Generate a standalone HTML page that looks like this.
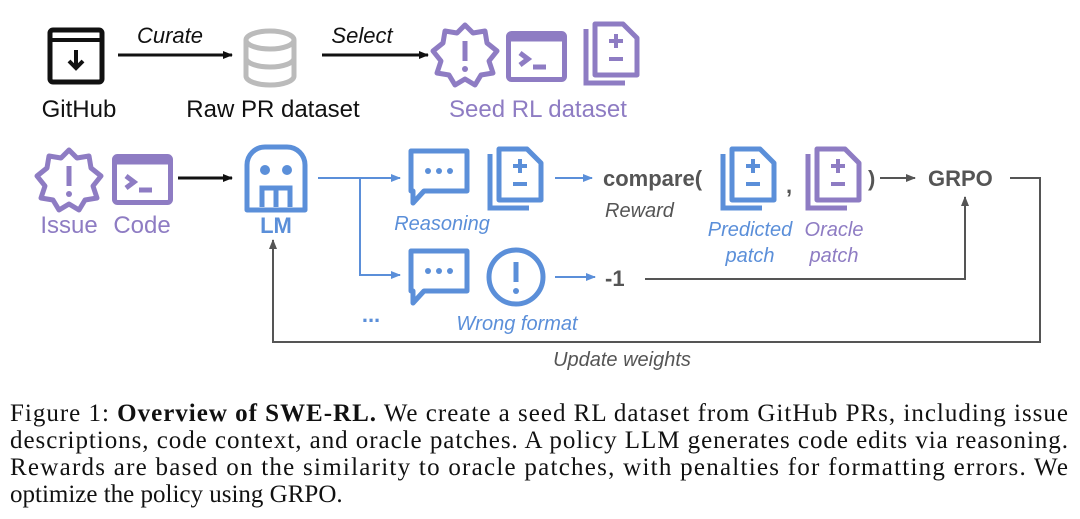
<!DOCTYPE html>
<html><head><meta charset="utf-8"><style>
html,body{margin:0;padding:0;background:#fff;width:1080px;height:519px;overflow:hidden}
svg{display:block}
.s{font-family:"Liberation Sans",sans-serif}
.cap{font-family:"Liberation Serif",serif;font-size:25px;fill:#111}
</style></head><body>
<svg width="1080" height="519" viewBox="0 0 1080 519" xmlns="http://www.w3.org/2000/svg">
<defs>
<marker id="ak" markerWidth="10" markerHeight="8" refX="9" refY="4" orient="auto" markerUnits="userSpaceOnUse"><path d="M0,0 L10,4 L0,8 z" fill="#111"/></marker>
<marker id="ab" markerWidth="10" markerHeight="8" refX="9" refY="4" orient="auto" markerUnits="userSpaceOnUse"><path d="M0,0 L10,4 L0,8 z" fill="#5b8fd9"/></marker>
<marker id="ag" markerWidth="10" markerHeight="8" refX="9" refY="4" orient="auto" markerUnits="userSpaceOnUse"><path d="M0,0 L10,4 L0,8 z" fill="#555"/></marker>
<g id="patch">
 <path d="M3,8 V62 H42" fill="none" stroke-width="5"/>
 <path d="M12,3 H40 L54,17 V54 H12 Z" fill="none" stroke-width="5" stroke-linejoin="round"/>
 <path d="M33,13 V27 M26,20 H40 M26,38 H40" fill="none" stroke-width="4"/>
</g>
<g id="star">
 <path d="M34,2 L42,10 L54,8 L56,20 L66,28 L58,38 L62,50 L50,52 L44,62 L34,56 L24,62 L18,52 L6,50 L10,38 L2,28 L12,20 L14,8 L26,10 Z" fill="none" stroke-width="5" stroke-linejoin="round"/>
 <path d="M34,18 V38" stroke-width="5"/><circle cx="34" cy="46" r="3" stroke="none"/>
</g>
<g id="term">
 <rect x="2.5" y="2.5" width="56" height="46" rx="3" fill="none" stroke-width="5"/>
 <rect x="2.5" y="2.5" width="56" height="8" stroke="none"/>
 <path d="M14,22 L22,28 L14,34 M27,36 H40" fill="none" stroke-width="5"/>
</g>
<g id="bubble">
 <path d="M3,3 H59 V43 H16 L5,55 V43 H3 Z" fill="none" stroke-width="5" stroke-linejoin="round"/>
 <circle cx="20" cy="23" r="3" stroke="none"/><circle cx="31" cy="23" r="3" stroke="none"/><circle cx="42" cy="23" r="3" stroke="none"/>
</g>
</defs>

<!-- row 1 -->
<rect x="50" y="30" width="52" height="52" rx="3" fill="none" stroke="#111" stroke-width="5"/>
<path d="M50,40 H102" stroke="#111" stroke-width="4"/>
<path d="M76,50 V68 M69,61 L76,68 L83,61" fill="none" stroke="#111" stroke-width="4"/>
<text x="79" y="117" text-anchor="middle" class="s" font-size="24" fill="#111">GitHub</text>
<line x1="118" y1="55" x2="232" y2="55" stroke="#111" stroke-width="3" marker-end="url(#ak)"/>
<text x="170" y="43" text-anchor="middle" class="s" font-size="22" font-style="italic" fill="#111">Curate</text>
<g fill="none" stroke="#bbb" stroke-width="5">
<ellipse cx="270" cy="40" rx="24" ry="9"/>
<path d="M246,40 V76 A24,9 0 0 0 294,76 V40 M246,58 A24,9 0 0 0 294,58"/>
</g>
<text x="273" y="117" text-anchor="middle" class="s" font-size="24" fill="#111">Raw PR dataset</text>
<line x1="322" y1="55" x2="428" y2="55" stroke="#111" stroke-width="3" marker-end="url(#ak)"/>
<text x="362" y="43" text-anchor="middle" class="s" font-size="22" font-style="italic" fill="#111">Select</text>
<use href="#star" x="431" y="23" stroke="#8e7cc3" fill="#8e7cc3"/>
<use href="#term" x="506" y="31" stroke="#8e7cc3" fill="#8e7cc3"/>
<use href="#patch" x="583" y="21" stroke="#8e7cc3"/>
<text x="538" y="117" text-anchor="middle" class="s" font-size="24" fill="#8e7cc3">Seed RL dataset</text>

<!-- row 2 -->
<use href="#star" x="35" y="148" stroke="#8e7cc3" fill="#8e7cc3"/>
<use href="#term" x="112" y="154" stroke="#8e7cc3" fill="#8e7cc3"/>
<text x="69" y="233" text-anchor="middle" class="s" font-size="24" fill="#8e7cc3">Issue</text>
<text x="142" y="233" text-anchor="middle" class="s" font-size="24" fill="#8e7cc3">Code</text>
<line x1="178" y1="178" x2="232" y2="178" stroke="#111" stroke-width="3" marker-end="url(#ak)"/>
<path d="M247,210 V165 A18,18 0 0 1 265,147 H287 A18,18 0 0 1 305,165 V210 Z" fill="none" stroke="#5b8fd9" stroke-width="5" stroke-linejoin="round"/>
<circle cx="265" cy="170" r="5" fill="#5b8fd9"/><circle cx="287" cy="170" r="5" fill="#5b8fd9"/>
<path d="M262,207 V188 H290 V207 M276,188 V207" fill="none" stroke="#5b8fd9" stroke-width="5"/>
<text x="276" y="233" text-anchor="middle" class="s" font-size="22" font-weight="bold" fill="#5b8fd9">LM</text>
<path d="M318,178 H400" stroke="#5b8fd9" stroke-width="2" fill="none" marker-end="url(#ab)"/>
<path d="M360,178 V275 H400" stroke="#5b8fd9" stroke-width="2" fill="none" marker-end="url(#ab)"/>
<text x="371" y="322" text-anchor="middle" class="s" font-size="22" font-weight="bold" fill="#5b8fd9">...</text>
<use href="#bubble" x="408" y="148" stroke="#5b8fd9" fill="#5b8fd9"/>
<use href="#patch" x="487" y="146" stroke="#5b8fd9"/>
<text x="442" y="230" text-anchor="middle" class="s" font-size="20" font-style="italic" fill="#5b8fd9">Reasoning</text>
<line x1="555" y1="178" x2="592" y2="178" stroke="#5b8fd9" stroke-width="2" marker-end="url(#ab)"/>
<text x="603" y="186" class="s" font-size="22" font-weight="bold" fill="#555">compare(</text>
<text x="605" y="217" class="s" font-size="20" font-style="italic" fill="#555">Reward</text>
<use href="#patch" x="720" y="146" stroke="#5b8fd9"/>
<text x="786" y="193" class="s" font-size="22" font-weight="bold" fill="#555">,</text>
<use href="#patch" x="805" y="146" stroke="#8e7cc3"/>
<text x="868" y="186" class="s" font-size="22" font-weight="bold" fill="#555">)</text>
<line x1="880" y1="178" x2="915" y2="178" stroke="#555" stroke-width="2" marker-end="url(#ag)"/>
<text x="928" y="186" class="s" font-size="22" font-weight="bold" fill="#555">GRPO</text>
<text x="750" y="236" text-anchor="middle" class="s" font-size="20" font-style="italic" fill="#5b8fd9">Predicted</text>
<text x="750" y="262" text-anchor="middle" class="s" font-size="20" font-style="italic" fill="#5b8fd9">patch</text>
<text x="834" y="236" text-anchor="middle" class="s" font-size="20" font-style="italic" fill="#8e7cc3">Oracle</text>
<text x="834" y="262" text-anchor="middle" class="s" font-size="20" font-style="italic" fill="#8e7cc3">patch</text>

<use href="#bubble" x="408" y="248" stroke="#5b8fd9" fill="#5b8fd9"/>
<circle cx="516" cy="277" r="27" fill="none" stroke="#5b8fd9" stroke-width="5"/>
<path d="M516,262 V282" stroke="#5b8fd9" stroke-width="5"/><circle cx="516" cy="291" r="3" fill="#5b8fd9"/>
<text x="517" y="330" text-anchor="middle" class="s" font-size="20" font-style="italic" fill="#5b8fd9">Wrong format</text>
<line x1="555" y1="277" x2="595" y2="277" stroke="#5b8fd9" stroke-width="2" marker-end="url(#ab)"/>
<text x="605" y="286" class="s" font-size="22" font-weight="bold" fill="#555">-1</text>
<path d="M645,279 H965 V197" fill="none" stroke="#555" stroke-width="2" marker-end="url(#ag)"/>
<path d="M1010,178 H1040 V342 H273 V240" fill="none" stroke="#555" stroke-width="2" marker-end="url(#ag)"/>
<text x="622" y="366" text-anchor="middle" class="s" font-size="20" font-style="italic" fill="#555">Update weights</text>

<text x="10" y="421" class="cap" textLength="1058" lengthAdjust="spacing">Figure 1: <tspan font-weight="bold">Overview of SWE-RL.</tspan> We create a seed RL dataset from GitHub PRs, including issue</text>
<text x="10" y="448" class="cap" textLength="1058" lengthAdjust="spacing">descriptions, code context, and oracle patches. A policy LLM generates code edits via reasoning.</text>
<text x="10" y="475" class="cap" textLength="1058" lengthAdjust="spacing">Rewards are based on the similarity to oracle patches, with penalties for formatting errors. We</text>
<text x="10" y="502" class="cap">optimize the policy using GRPO.</text>
</svg>
</body></html>
